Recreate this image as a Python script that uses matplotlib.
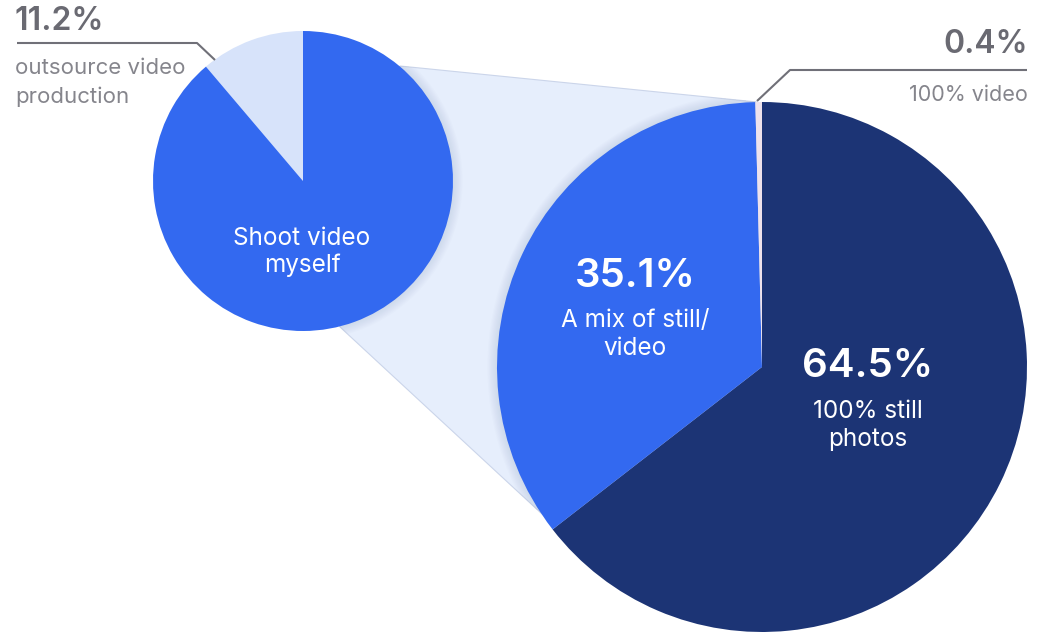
import matplotlib
matplotlib.use("Agg")
import matplotlib.pyplot as plt
from matplotlib.patches import Polygon, Circle

plt.rcParams['font.family'] = ['Inter', 'DejaVu Sans']

# Who produces the video: outsourced vs. in-house
outer_labels = ["outsource video\nproduction", "Shoot video\nmyself"]
outer_values = [11.2, 88.8]

# Breakdown of in-house content type
inner_labels = ["100% still\nphotos", "A mix of still/\nvideo", "100% video"]
inner_values = [64.5, 35.1, 0.4]

W, H = 1047, 632
BLUE = "#3369F0"
NAVY = "#1C3475"
PALE = "#D7E3FA"
LINK = "#E6EEFC"
TINT = "#EEE2EC"
GRAY_DARK = "#6A6A72"
GRAY = "#85858C"

fig = plt.figure(figsize=(W / 100, H / 100), dpi=100)
ax = fig.add_axes([0, 0, 1, 1])


def Y(y):
    return H - y


def lines(x, baseline, text, step, **kw):
    """Draw a multi-line label one line at a time, baseline-aligned."""
    for i, line in enumerate(text.split("\n")):
        ax.text(x, Y(baseline + i * step), line, va="baseline", **kw)


small_c, small_r = (303, Y(181)), 150
big_c, big_r = (762, Y(367)), 265

# connector band between the two pies
band = Polygon([small_c, (400, Y(66)), (757, Y(102)), big_c,
                (556, Y(527)), (340, Y(327))],
               closed=True, facecolor=LINK, edgecolor="#CBD5EA",
               linewidth=0.8, zorder=1)
ax.add_patch(band)

# soft shadows around the pies, kept inside the band
for c, r in ((small_c, small_r), (big_c, big_r)):
    for k in range(1, 9):
        sh = Circle(c, r + k * 1.2, facecolor="#7F8FB8", alpha=0.025,
                    edgecolor="none", zorder=1.5)
        ax.add_patch(sh)
        sh.set_clip_path(band)

ax.pie(outer_values, colors=[PALE, BLUE], startangle=90, counterclock=True,
       center=small_c, radius=small_r, frame=True,
       wedgeprops=dict(edgecolor="none", zorder=2))
ax.pie(inner_values, colors=[NAVY, BLUE, TINT], startangle=90,
       counterclock=False, center=big_c, radius=big_r, frame=True,
       wedgeprops=dict(edgecolor="none", zorder=2))
ax.set_xlim(0, W)
ax.set_ylim(0, H)
ax.set_aspect("auto")
ax.axis("off")

white_small = dict(ha="center", color="white", fontsize=17.5, zorder=5)
white_big = dict(ha="center", color="white", fontsize=29,
                 fontweight="semibold", zorder=5)

# in-pie labels
lines(302, 245, outer_labels[1], 27, **white_small)
lines(635, 287, f"{inner_values[1]}%", 0, **white_big)
lines(635, 327, inner_labels[1], 28, **white_small)
lines(868, 377, f"{inner_values[0]}%", 0, **white_big)
lines(868, 418, inner_labels[0], 28, **white_small)

# callout: outsourced share
ax.plot([17, 197, 215], [Y(43), Y(43), Y(60)], color="#707078",
        linewidth=1.5, solid_capstyle="butt", zorder=3)
lines(14, 30, f"{outer_values[0]}%", 0, ha="left", color=GRAY_DARK,
      fontsize=23, fontweight="semibold", zorder=5)
lines(15, 74, outer_labels[0], 29, ha="left", color=GRAY,
      fontsize=16, zorder=5)

# callout: video-only share
ax.plot([1027, 790, 757], [Y(70), Y(70), Y(101)], color="#707078",
        linewidth=1.5, solid_capstyle="butt", zorder=3)
lines(1028, 53, f"{inner_values[2]}%", 0, ha="right", color=GRAY_DARK,
      fontsize=23, fontweight="semibold", zorder=5)
lines(1028, 101, inner_labels[2], 0, ha="right", color=GRAY,
      fontsize=15.5, zorder=5)

fig.savefig("out.png", dpi=100, facecolor="white")
